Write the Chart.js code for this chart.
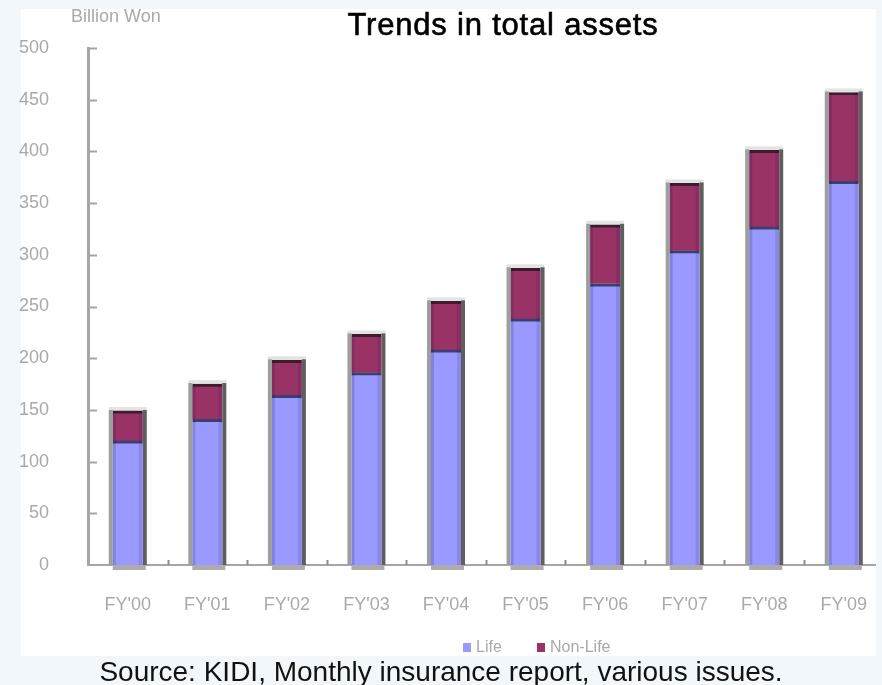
<!DOCTYPE html>
<html>
<head>
<meta charset="utf-8">
<script src="https://cdn.jsdelivr.net/npm/chart.js@4/dist/chart.umd.min.js"></script>
<style>
  html, body { margin: 0; padding: 0; background: #f1f7fa; }
  #wrap { position: relative; width: 882px; height: 685px; overflow: hidden; }
  #c { position: absolute; left: 0; top: 0; }
  #title {
    position: absolute; left: 203px; width: 600px; top: 9px;
    text-align: center; font: 31px/31px "Liberation Sans", Arial, sans-serif;
    letter-spacing: 0.8px; color: #000; white-space: nowrap;
    -webkit-text-stroke: 0.6px #000;
  }
  #source {
    position: absolute; left: 0; width: 882px; top: 658px;
    text-align: center; font: 28px/28px "Liberation Sans", Arial, sans-serif;
    color: #111; white-space: nowrap;
  }
</style>
</head>
<body>
<div id="wrap">
  <canvas id="c" width="888" height="685"></canvas>
  <div id="title">Trends in total assets</div>
  <div id="source">Source: KIDI, Monthly insurance report, various issues.</div>
</div>
<script>
// Fiscal years on the category axis
const categories = ["FY'00", "FY'01", "FY'02", "FY'03", "FY'04", "FY'05", "FY'06", "FY'07", "FY'08", "FY'09"];
// Total assets, billion won
const lifeAssets    = [120, 141, 164, 186, 208, 238, 272, 304, 327, 371];
const nonLifeAssets = [29, 34, 34, 37, 47, 49, 57, 65, 74, 86];
const seriesNames = ["Life", "Non-Life"];
const unitLabel = "Billion Won";

const BG = '#f1f7fa';
const AXIS_GREY = '#a6a6a6';
const TEXT_GREY = '#a9a9a9';
const FONT = '"Liberation Sans", Arial, sans-serif';

// Light-blue page with a white panel behind the chart
const panelPlugin = {
  id: 'panel',
  beforeDraw(chart) {
    const ctx = chart.ctx;
    ctx.save();
    ctx.fillStyle = BG;
    ctx.fillRect(0, 0, chart.width, chart.height);
    ctx.fillStyle = '#ffffff';
    ctx.fillRect(21, 9, 855, 647);
    ctx.restore();
  },
  afterDraw(chart) {
    const ctx = chart.ctx;
    ctx.save();
    ctx.fillStyle = BG;
    ctx.fillRect(876, 0, chart.width - 876, chart.height);
    ctx.restore();
  }
};

// Grey frame / shadow around each stacked column
const columnShadePlugin = {
  id: 'columnShade',
  beforeDatasetsDraw(chart) {
    const ctx = chart.ctx;
    const topMeta = chart.getDatasetMeta(1);
    const base = chart.scales.y.getPixelForValue(0);
    ctx.save();
    topMeta.data.forEach(bar => {
      const w = bar.width, left = bar.x - w / 2, top = bar.y;
      ctx.fillStyle = '#e4e4e4';
      ctx.fillRect(left - 4, top - 4, w + 8, 4);
      ctx.fillStyle = '#9e9e9e';
      ctx.fillRect(left - 4, top - 1, 4, base - top + 1);
      ctx.fillStyle = '#5f5f5f';
      ctx.fillRect(left + w, top - 1, 4, base - top + 1);
      ctx.fillStyle = '#acacac';
      ctx.fillRect(left, base, w + 3, 5);
    });
    ctx.restore();
  },
  afterDatasetsDraw(chart) {
    const ctx = chart.ctx;
    ctx.save();
    [0, 1].forEach(di => {
      chart.getDatasetMeta(di).data.forEach(bar => {
        const w = bar.width, left = bar.x - w / 2;
        const top = Math.min(bar.y, bar.base), h = Math.abs(bar.base - bar.y);
        ctx.fillStyle = 'rgba(20,20,70,0.18)';
        ctx.fillRect(left, top, 3, h);
        ctx.fillStyle = 'rgba(20,20,70,0.12)';
        ctx.fillRect(left + w - 4, top, 4, h);
      });
    });
    ctx.restore();
  }
};

// Inward tick marks, unit label and legend
const axisDecorPlugin = {
  id: 'axisDecor',
  afterDraw(chart) {
    const ctx = chart.ctx;
    const xs = chart.scales.x, ys = chart.scales.y;
    ctx.save();
    ctx.strokeStyle = AXIS_GREY;
    ctx.lineWidth = 2;
    ys.ticks.forEach(t => {
      if (t.value === 0) return;
      const py = Math.round(ys.getPixelForValue(t.value)) + 0.5;
      ctx.beginPath();
      ctx.moveTo(xs.left, py);
      ctx.lineTo(xs.left + 9, py);
      ctx.stroke();
    });
    const step = xs.getPixelForValue(1) - xs.getPixelForValue(0);
    ctx.strokeStyle = '#8c8c8c';
    categories.forEach((c, i) => {
      const px = Math.round(xs.getPixelForValue(i) + step / 2) + 0.5;
      ctx.beginPath();
      ctx.moveTo(px, ys.bottom);
      ctx.lineTo(px, ys.bottom - 5);
      ctx.stroke();
    });

    ctx.fillStyle = TEXT_GREY;
    ctx.font = '18px ' + FONT;
    ctx.textBaseline = 'middle';
    ctx.textAlign = 'left';
    ctx.fillText(unitLabel, 71, 17);

    // legend
    const items = [{ x: 463 }, { x: 537 }];
    ctx.font = '16px ' + FONT;
    items.forEach((it, i) => {
      const ds = chart.data.datasets[i];
      ctx.fillStyle = ds.backgroundColor;
      ctx.fillRect(it.x, 643, 8, 9);
      ctx.fillStyle = TEXT_GREY;
      ctx.fillText(ds.label, it.x + 13, 648);
    });
    ctx.restore();
  }
};

new Chart(document.getElementById('c'), {
  type: 'bar',
  data: {
    labels: categories,
    datasets: [
      {
        label: seriesNames[0],
        data: lifeAssets,
        backgroundColor: '#9999ff',
        borderColor: '#3e3e70',
        borderWidth: { top: 3, left: 0, right: 0, bottom: 0 },
        borderSkipped: false,
        barThickness: 30
      },
      {
        label: seriesNames[1],
        data: nonLifeAssets,
        backgroundColor: '#993366',
        borderColor: '#3f1c2d',
        borderWidth: { top: 3, left: 0, right: 0, bottom: 0 },
        borderSkipped: false,
        barThickness: 30
      }
    ]
  },
  options: {
    responsive: false,
    animation: false,
    layout: { padding: { left: 0, right: 0, top: 48, bottom: 0 } },
    plugins: { legend: { display: false }, tooltip: { enabled: false }, title: { display: false } },
    scales: {
      x: {
        stacked: true,
        grid: { display: false },
        border: { display: true, color: AXIS_GREY, width: 2 },
        ticks: { color: TEXT_GREY, font: { family: FONT, size: 18 }, padding: 21 },
        afterFit(scale) { scale.height = 120; }
      },
      y: {
        stacked: true,
        min: 0, max: 500,
        grid: { display: false },
        border: { display: true, color: AXIS_GREY, width: 3 },
        ticks: { stepSize: 50, color: TEXT_GREY, font: { family: FONT, size: 18 }, padding: 31 },
        afterFit(scale) { scale.width = 88; }
      }
    }
  },
  plugins: [panelPlugin, columnShadePlugin, axisDecorPlugin]
});
</script>
</body>
</html>
